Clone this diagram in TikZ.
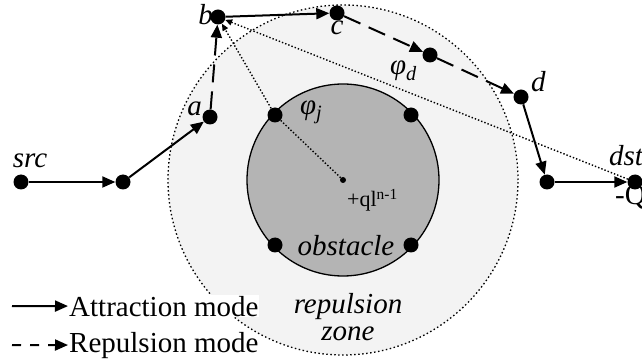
\documentclass[tikz,border=0pt]{standalone}
\usepackage{fontspec}
\setmainfont{Liberation Serif}
\usetikzlibrary{arrows.meta}
\definecolor{zonegray}{RGB}{243,243,243}
\definecolor{obstgray}{RGB}{180,180,180}

\begin{document}
\begin{tikzpicture}[x=1pt,y=-1pt,
  waypt/.style={circle,fill=black,inner sep=0pt,minimum size=15pt},
  attract/.style={line width=2pt,-{Triangle[length=13pt,width=11pt]}},
  repel/.style={attract,dash pattern=on 18pt off 9pt},
  hint/.style={line width=1.4pt,dotted,-{Triangle[length=7pt,width=6pt]}},
  lbl/.style={font=\fontsize{29}{27}\selectfont\itshape,inner sep=0pt},
  txt/.style={font=\fontsize{29}{27}\selectfont,inner sep=0pt}]
  \useasboundingbox (0,0) rectangle (642,363);
  \fill[zonegray] (343,180) circle (175pt);
  \draw[line width=1.3pt,dash pattern=on 1.5pt off 2.5pt] (343,180) circle (175pt);
  \draw[fill=obstgray,line width=1.3pt] (343,180) circle (96pt);
  \node[circle,fill=black,inner sep=0pt,minimum size=6pt] (ctr) at (343,180) {};
  \foreach \n/\x/\y in {ob1/275/115,ob2/411/115,ob3/275/245,ob4/411/245}{
    \node[waypt] (\n) at (\x,\y) {};}
  \node[waypt] (src) at (21,182) {};
  \node[waypt] (p1) at (123,182) {};
  \node[waypt] (a) at (210,117) {};
  \node[waypt] (b) at (218,17) {};
  \node[waypt] (c) at (337,13) {};
  \node[waypt] (p2) at (430,55) {};
  \node[waypt] (d) at (521,97) {};
  \node[waypt] (p3) at (547,182) {};
  \node[waypt] (dst) at (635,182) {};
  \draw[hint] (ctr) -- (ob1.center) -- (b);
  \draw[hint] (dst) -- (b);
  \draw[attract] (src) -- (p1);
  \draw[attract] (p1) -- (a);
  \draw[repel] (a) -- (b);
  \draw[attract] (b) -- (c);
  \draw[repel] (c) -- (p2);
  \draw[repel] (p2) -- (d);
  \draw[attract] (d) -- (p3);
  \draw[attract] (p3) -- (dst);
  \node[lbl,anchor=base] (srct) at (30,168) {src};
  \node[lbl,anchor=base east] (at) at (202,116) {a};
  \node[lbl,anchor=base east] (bt) at (213,25) {b};
  \node[lbl,anchor=base] (ct) at (337,35) {c};
  \node[lbl,anchor=base west] (dt) at (531,92) {d};
  \node[lbl,anchor=base west] (dstt) at (609,166) {dst};
  \node[txt,anchor=base west] (qt) at (615,205) {-Q};
  \node[lbl,anchor=base west] (phid) at (390,75) {φ\textsubscript{d}};
  \node[lbl,anchor=base west] (phij) at (300,115) {φ\textsubscript{j}};
  \node[txt,anchor=base west,font=\fontsize{22}{22}\selectfont] (chg) at (347,207) {+ql\textsuperscript{n-1}};
  \node[lbl,anchor=base] (obst) at (346,255) {obstacle};
  \node[lbl,anchor=base,align=center] (zone) at (348,340) {repulsion\\zone};
  \node[txt,anchor=base west,fill=white,inner sep=1pt] (attr) at (68,316) {Attraction mode};
  \node[txt,anchor=base west,inner sep=1pt] (repl) at (68,352) {Repulsion mode};
  \coordinate (l1) at (12,306);
  \coordinate (l2) at (12,345);
  \draw[attract] (l1) -- (attr.west);
  \draw[attract,dash pattern=on 9pt off 9pt] (l2) -- (repl.west);
\end{tikzpicture}
\end{document}
